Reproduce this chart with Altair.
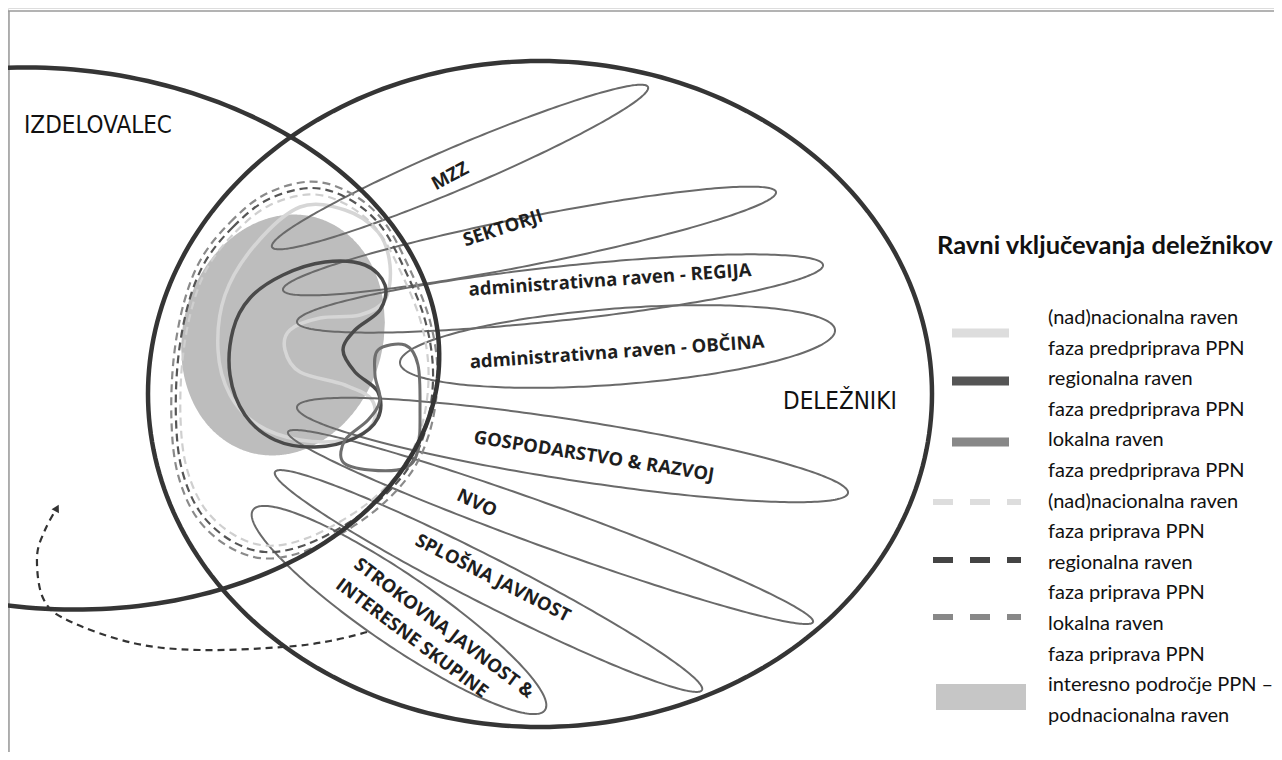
import numpy as np
import pandas as pd
import altair as alt

# ---------------- data (pixel space of the figure) ----------------
# big sets: centre, half-axes, rotation (deg, clockwise on screen)
SET_NAMES = ["IZDELOVALEC", "DELEŽNIKI"]
SET_CX = [50, 540]
SET_CY = [338.5, 394]
SET_RX = [390, 392]
SET_RY = [270, 333]
SET_ROT = [5, 0]
SET_LABEL_X = [24, 783]
SET_LABEL_Y = [126, 402]

# stakeholder petals: left tip, right tip, half width
PETAL_ID = ["MZZ", "SEKTORJI", "REGIJA", "OBCINA", "GOSPODARSTVO", "NVO", "SPLOSNA", "STROKOVNA"]
PETAL_LX = [272, 283, 297, 400, 297, 288, 275, 253]
PETAL_LY = [247, 290, 322, 363, 407, 432, 472, 510]
PETAL_RX = [648, 776, 823, 835, 848, 813, 702, 545]
PETAL_RY = [87, 192, 265, 330, 493, 622, 690, 710]
PETAL_HW = [21, 24, 27, 38, 30, 21, 23, 35]

LABEL_TEXT = ["MZZ", "SEKTORJI", "administrativna raven - REGIJA",
              "administrativna raven - OBČINA", "GOSPODARSTVO & RAZVOJ", "NVO",
              "SPLOŠNA JAVNOST", "STROKOVNA JAVNOST &", "INTERESNE SKUPINE"]
LABEL_X = [450, 503, 610, 617, 594, 477, 493, 444, 412]
LABEL_Y = [176, 228, 280, 352, 456, 503, 578, 628, 638]
LABEL_ANGLE = [-28, -18, -4, -4, 9, 25, 27, 37, 37]

# area of interest (grey ellipse)
BLOB = dict(cx=283, cy=335, a=100, b=122, rot=16)

# dashed "priprava" loops: control points of the middle loop, and scale of each loop
DASH_PX = [205, 233, 267, 310, 347, 380, 405, 425, 433, 428, 412, 385, 350, 305, 265, 230, 200, 182, 176, 178, 188]
DASH_PY = [262, 227, 200, 188, 198, 225, 270, 320, 370, 420, 462, 495, 522, 545, 552, 540, 512, 470, 420, 360, 305]
DASH_CENTRE = (305, 370)
DASH_SCALE = [0.965, 1.0, 1.035]
DASH_COLOR = ["#cfcfcf", "#555555", "#8a8a8a"]

# regional (dark) curve control points
REG_X = [283, 325, 365, 385, 380, 355, 343, 355, 378, 378, 355, 315, 275, 245, 230, 233, 250]
REG_Y = [275, 262, 265, 285, 310, 330, 350, 372, 392, 418, 438, 447, 440, 415, 375, 330, 298]
# local (medium) curve control points
LOC_X = [378, 405, 418, 420, 418, 405, 370, 343, 345, 368, 380, 375]
LOC_Y = [350, 345, 365, 410, 450, 468, 470, 462, 440, 420, 400, 375]
# (supra)national (light) curve control points
NAT_X = [300, 345, 378, 390, 385, 360, 320, 290, 285, 300, 345, 372, 372, 345, 300, 258, 230, 218, 225, 255]
NAT_Y = [207, 210, 232, 265, 300, 315, 318, 330, 350, 372, 385, 400, 425, 440, 440, 425, 395, 350, 295, 245]

# feedback arrow (dashed)
ARROW_X = [367, 330, 283, 200, 133, 67, 43, 37, 45, 57]
ARROW_Y = [632, 641, 647, 650, 643, 620, 598, 557, 530, 508]

# legend
LEGEND_TITLE = "Ravni vključevanja deležnikov"
LEGEND_LINES = ["(nad)nacionalna raven", "faza predpriprava PPN", "regionalna raven",
                "faza predpriprava PPN", "lokalna raven", "faza predpriprava PPN",
                "(nad)nacionalna raven", "faza priprava PPN", "regionalna raven",
                "faza priprava PPN", "lokalna raven", "faza priprava PPN",
                "interesno področje PPN –", "podnacionalna raven"]
SWATCH_Y = [333, 381, 442, 502, 560, 617]
SWATCH_COLOR = ["#dddddd", "#555555", "#888888", "#dddddd", "#444444", "#888888"]
SWATCH_DASHED = [False, False, False, True, True, True]

# ---------------- geometry helpers ----------------
X0, X1, Y0, Y1 = 8, 1274, 8, 752
W, H = X1 - X0, Y1 - Y0
xs = alt.Scale(domain=[X0, X1], nice=False, zero=False)
ys = alt.Scale(domain=[Y0, Y1], nice=False, zero=False, reverse=True)
X = alt.X("x:Q", scale=xs, axis=None)
Y = alt.Y("y:Q", scale=ys, axis=None)


def ellipse(cx, cy, a, b, rot, n=260):
    t = np.linspace(0, 2 * np.pi, n + 1)
    r = np.deg2rad(rot)
    x = cx + a * np.cos(t) * np.cos(r) - b * np.sin(t) * np.sin(r)
    y = cy + a * np.cos(t) * np.sin(r) + b * np.sin(t) * np.cos(r)
    return x, y


def ellipse_band(cx, cy, a, b, rot, n=200):
    r = np.deg2rad(rot)
    c, s = np.cos(r), np.sin(r)
    A = s * s / a ** 2 + c * c / b ** 2
    xmax = np.sqrt(a * a * c * c + b * b * s * s)
    dx = np.linspace(-xmax, xmax, n)
    B = 2 * dx * (c * s / a ** 2 - c * s / b ** 2)
    C = dx * dx * (c * c / a ** 2 + s * s / b ** 2) - 1
    disc = np.clip(B * B - 4 * A * C, 0, None)
    return cx + dx, cy + (-B - np.sqrt(disc)) / (2 * A), cy + (-B + np.sqrt(disc)) / (2 * A)


def frame(parts):
    rows = []
    for pid, x, y in parts:
        for i, (a, b) in enumerate(zip(x, y)):
            rows.append({"id": pid, "x": float(a), "y": float(b), "o": i})
    return pd.DataFrame(rows)


def line_layer(df, color, width, dash=None, interp="linear", cap="round"):
    kw = dict(color=color, strokeWidth=width, interpolate=interp, clip=True, strokeCap=cap)
    if dash:
        kw["strokeDash"] = dash
    return alt.Chart(df).mark_line(**kw).encode(x=X, y=Y, detail="id:N", order="o:Q")


# big sets
sets_df = frame([(n, *ellipse(cx, cy, a, b, r)) for n, cx, cy, a, b, r in
                 zip(SET_NAMES, SET_CX, SET_CY, SET_RX, SET_RY, SET_ROT)])

# petals
petal_parts = []
for pid, lx, ly, rx, ry, hw in zip(PETAL_ID, PETAL_LX, PETAL_LY, PETAL_RX, PETAL_RY, PETAL_HW):
    cx, cy = (lx + rx) / 2, (ly + ry) / 2
    a = np.hypot(rx - lx, ry - ly) / 2
    rot = np.degrees(np.arctan2(ry - ly, rx - lx))
    petal_parts.append((pid, *ellipse(cx, cy, a, hw, rot)))
petals_df = frame(petal_parts)

# grey area
bx, by1, by2 = ellipse_band(BLOB["cx"], BLOB["cy"], BLOB["a"], BLOB["b"], BLOB["rot"])
blob_df = pd.DataFrame({"x": bx, "y": by1, "y2": by2})

# dashed loops
dash_layers = []
for k, (sc, col) in enumerate(zip(DASH_SCALE, DASH_COLOR)):
    px = DASH_CENTRE[0] + (np.array(DASH_PX) - DASH_CENTRE[0]) * sc
    py = DASH_CENTRE[1] + (np.array(DASH_PY) - DASH_CENTRE[1]) * sc
    dash_layers.append(line_layer(frame([(f"d{k}", px, py)]), col, 2.2, dash=[8, 5],
                                  interp="cardinal-closed", cap="butt"))

reg_df = frame([("reg", REG_X, REG_Y)])
loc_df = frame([("loc", LOC_X, LOC_Y)])
nat_df = frame([("nat", NAT_X, NAT_Y)])
arrow_df = frame([("arrow", ARROW_X, ARROW_Y)])
head_df = pd.DataFrame({"x": [ARROW_X[-1]], "y": [ARROW_Y[-1]]})
head_angle = float(np.degrees(np.arctan2(ARROW_X[-1] - ARROW_X[-2], -(ARROW_Y[-1] - ARROW_Y[-2]))))

# ---------------- layers ----------------
border_df = pd.DataFrame({"x": [X0, 9], "x2": [X1, 9], "y": [11, 11], "y2": [11, Y1]})
border = alt.Chart(border_df).mark_rule(color="#9a9a9a", strokeWidth=1.5).encode(
    x=X, x2="x2:Q", y=Y, y2="y2:Q")

blob = alt.Chart(blob_df).mark_area(color="#bdbdbd", opacity=1, clip=True).encode(
    x=X, y=Y, y2="y2:Q")

nat = line_layer(nat_df, "#d6d6d6", 3.5, interp="cardinal-closed")
petals = line_layer(petals_df, "#6a6a6a", 2)
reg = line_layer(reg_df, "#4a4a4a", 3.5, interp="cardinal-closed")
loc = line_layer(loc_df, "#6e6e6e", 3, interp="cardinal-closed")
sets = line_layer(sets_df, "#353535", 4.5)
arrow = line_layer(arrow_df, "#333333", 2.2, dash=[7, 5], interp="cardinal", cap="butt")
head = alt.Chart(head_df).mark_point(shape="triangle-up", filled=True, size=70, opacity=1,
                                     color="#333333", angle=head_angle % 360).encode(x=X, y=Y)

lab_df = pd.DataFrame({"t": LABEL_TEXT, "x": LABEL_X, "y": LABEL_Y,
                       "ang": [a % 360 for a in LABEL_ANGLE]})
labels = alt.Chart(lab_df).mark_text(font="Open Sans", fontWeight="bold", fontSize=18.5,
                                     color="#1e1e1e", align="center", baseline="middle").encode(
    x=X, y=Y, text="t:N", angle=alt.Angle("ang:Q", scale=None))

set_lab_df = pd.DataFrame({"t": SET_NAMES, "x": SET_LABEL_X, "y": SET_LABEL_Y})
set_labels = alt.Chart(set_lab_df).mark_text(
    font="Liberation Sans Narrow, DejaVu Sans Condensed, Open Sans", fontSize=24,
    color="#111111", align="left", baseline="middle").encode(x=X, y=Y, text="t:N")

title_df = pd.DataFrame({"t": [LEGEND_TITLE], "x": [937], "y": [246]})
title = alt.Chart(title_df).mark_text(font="Lato", fontWeight="bold", fontSize=25.5,
                                      color="#111111", align="left", baseline="middle").encode(
    x=X, y=Y, text="t:N")

leg_df = pd.DataFrame({"t": LEGEND_LINES, "x": [1048] * len(LEGEND_LINES),
                       "y": [318 + 30.6 * i for i in range(len(LEGEND_LINES))]})
leg_text = alt.Chart(leg_df).mark_text(font="Lato", fontSize=20, color="#111111",
                                       align="left", baseline="middle").encode(x=X, y=Y, text="t:N")

sw_layers = []
for i, (sy, col, dashed) in enumerate(zip(SWATCH_Y, SWATCH_COLOR, SWATCH_DASHED)):
    d = pd.DataFrame({"x": [933 if dashed else 952], "x2": [1021 if dashed else 1009], "y": [sy]})
    kw = dict(color=col, strokeWidth=6 if dashed else 9)
    if dashed:
        kw["strokeDash"] = [20, 17]
    sw_layers.append(alt.Chart(d).mark_rule(**kw).encode(x=X, x2="x2:Q", y=Y))

box_df = pd.DataFrame({"x": [936], "x2": [1026], "y": [684], "y2": [710]})
box = alt.Chart(box_df).mark_rect(color="#c6c6c6").encode(x=X, x2="x2:Q", y=Y, y2="y2:Q")

chart = alt.layer(
    border, blob, nat, petals, *dash_layers, reg, loc, sets, arrow, head,
    labels, set_labels, title, leg_text, *sw_layers, box
).properties(
    width=W, height=H, padding=0, autosize=alt.AutoSizeParams(type="none")
).configure_view(stroke=None).configure(background="white")

chart.save("out.html", embed_options={"renderer": "svg", "actions": False})
